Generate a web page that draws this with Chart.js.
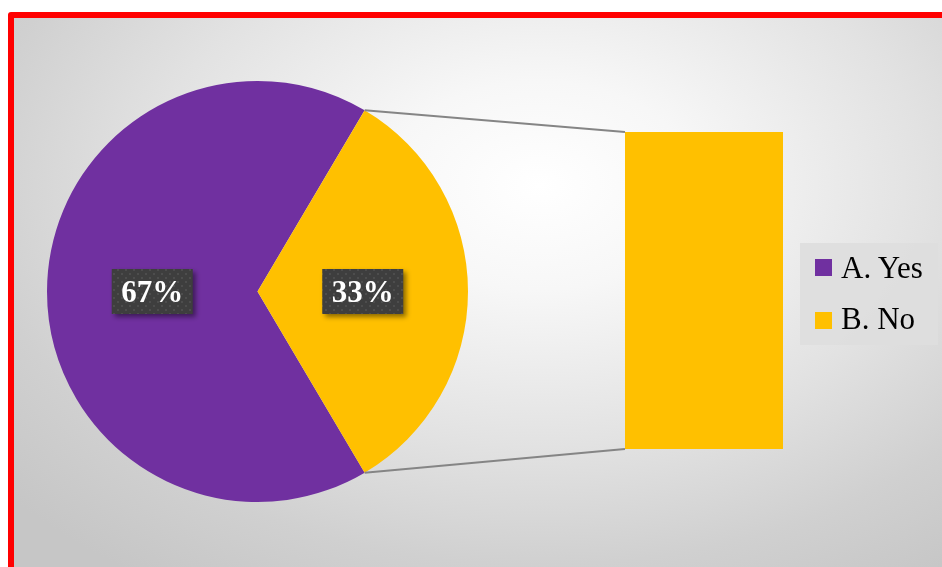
<!DOCTYPE html>
<html>
<head>
<meta charset="utf-8">
<script src="https://cdn.jsdelivr.net/npm/chart.js@4"></script>
<style>
  html, body { margin: 0; padding: 0; background: #fff; overflow: hidden; }
  #frame {
    position: absolute; left: 8px; top: 12px; width: 950px; height: 570px;
    border: 6px solid #ff0000; border-radius: 3px; box-sizing: border-box;
    background: radial-gradient(ellipse 75% 85% at 56% 30%, #ffffff 0%, #f7f7f7 22%, #e2e2e2 55%, #d0d0d0 80%, #c6c6c6 100%);
  }
  #pie { position: absolute; left: 0; top: 0; }
  #bar { position: absolute; left: 625px; top: 132px; }
  #legend {
    position: absolute; left: 800px; top: 243px; width: 138px; height: 102px;
    background: rgba(222,222,222,0.9);
    font-family: "Liberation Serif", "Times New Roman", serif; font-size: 31px; color: #000;
  }
  #legend .txt { position: absolute; left: 41px; height: 30px; line-height: 30px; white-space: nowrap; }
  #legend .sw { position: absolute; left: 15px; width: 17px; height: 17px; }
</style>
</head>
<body>
<div id="frame"></div>
<canvas id="pie" width="942" height="567"></canvas>
<canvas id="bar" width="158" height="317"></canvas>
<div id="legend"></div>
<script>
var categories = ['A. Yes', 'B. No'];
var shares = [67, 33];
var colors = ['#7030a0', '#ffc000'];
var barCategories = ['B. No'];
var barValues = [33];

// legend
var legendBox = document.getElementById('legend');
categories.forEach(function (c, i) {
  var sw = document.createElement('div');
  sw.className = 'sw';
  sw.style.top = (16 + i * 53) + 'px';
  sw.style.background = colors[i];
  legendBox.appendChild(sw);
  var t = document.createElement('div');
  t.className = 'txt';
  t.style.top = (10 + i * 51) + 'px';
  t.textContent = c;
  legendBox.appendChild(t);
});

// right-hand bar (the split-out "No" slice)
var barChart = new Chart(document.getElementById('bar'), {
  type: 'bar',
  data: {
    labels: barCategories,
    datasets: [{ data: barValues, backgroundColor: colors[1], barPercentage: 1, categoryPercentage: 1 }]
  },
  options: {
    responsive: false, animation: false,
    layout: { padding: 0 },
    plugins: { legend: { display: false }, tooltip: { enabled: false } },
    scales: {
      x: { display: false },
      y: { display: false, min: 0, max: barValues.reduce(function (a, b) { return a + b; }, 0) }
    }
  }
});

// dotted dark pattern for the data label boxes
function labelPattern(ctx) {
  var p = document.createElement('canvas');
  p.width = 8; p.height = 8;
  var g = p.getContext('2d');
  g.fillStyle = '#3e3e3e';
  g.fillRect(0, 0, 8, 8);
  g.fillStyle = '#4d4d4d';
  g.fillRect(1, 1, 2, 2);
  g.fillRect(5, 5, 2, 2);
  return ctx.createPattern(p, 'repeat');
}

var pieExtras = {
  id: 'pieExtras',
  afterDraw: function (chart) {
    var ctx = chart.ctx;
    var arcs = chart.getDatasetMeta(0).data;
    // connector lines from the "No" slice to the bar
    var noArc = arcs[1];
    var barEl = barChart.getDatasetMeta(0).data[0];
    var bx = 625 + barEl.x - barEl.width / 2;
    var by0 = 132 + barEl.y;
    var by1 = 132 + barEl.base;
    var a0 = noArc.startAngle, a1 = noArc.endAngle;
    ctx.save();
    ctx.strokeStyle = '#858585';
    ctx.lineWidth = 2;
    ctx.beginPath();
    ctx.moveTo(noArc.x + noArc.outerRadius * Math.cos(a0), noArc.y + noArc.outerRadius * Math.sin(a0));
    ctx.lineTo(bx, by0);
    ctx.moveTo(noArc.x + noArc.outerRadius * Math.cos(a1), noArc.y + noArc.outerRadius * Math.sin(a1));
    ctx.lineTo(bx, by1);
    ctx.stroke();
    ctx.restore();

    // percentage labels
    var pat = labelPattern(ctx);
    ctx.save();
    ctx.font = 'bold 31px "Liberation Serif", "Times New Roman", serif';
    ctx.textAlign = 'center';
    ctx.textBaseline = 'middle';
    arcs.forEach(function (arc, i) {
      var pos = arc.tooltipPosition();
      var w = 81, h = 45;
      ctx.save();
      ctx.shadowColor = 'rgba(0,0,0,0.45)';
      ctx.shadowBlur = 5;
      ctx.shadowOffsetX = 3;
      ctx.shadowOffsetY = 3;
      ctx.fillStyle = pat;
      ctx.fillRect(pos.x - w / 2, pos.y - h / 2, w, h);
      ctx.restore();
      ctx.fillStyle = '#ffffff';
      ctx.fillText(shares[i] + '%', pos.x, pos.y + 2);
    });
    ctx.restore();
  }
};

new Chart(document.getElementById('pie'), {
  type: 'pie',
  data: {
    labels: categories,
    datasets: [{ data: shares, backgroundColor: colors, borderWidth: 0 }]
  },
  options: {
    responsive: false, animation: false,
    rotation: 149.4,
    layout: { padding: { left: 47, top: 81, right: 474, bottom: 65 } },
    plugins: { legend: { display: false }, tooltip: { enabled: false } }
  },
  plugins: [pieExtras]
});
</script>
</body>
</html>
